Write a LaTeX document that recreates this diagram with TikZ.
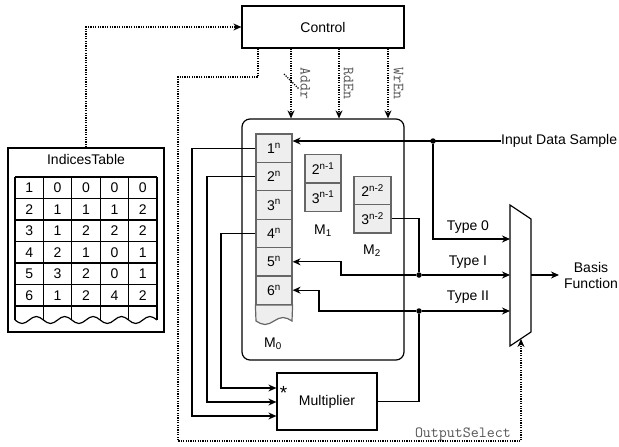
\documentclass[tikz,border=0pt]{standalone}
\usepackage{fontspec}
\setmainfont{Liberation Sans}
\usetikzlibrary{arrows.meta}
\newcommand\dfont{\fontsize{14}{16}\selectfont}
\newcommand\cfont{\ttfamily\fontsize{15.5}{17}\selectfont}
\definecolor{cellfill}{HTML}{EEEEEE}
\definecolor{cellline}{HTML}{666666}
\definecolor{codegray}{HTML}{555555}
\tikzset{
  wire/.style={line width=1.2pt},
  arr/.style={wire, -{Stealth[length=8pt,width=7pt]}},
  ctl/.style={line width=1.2pt, dash pattern=on 1.2pt off 1.2pt},
  ctlarr/.style={ctl, -{Stealth[length=8pt,width=7pt]}},
  block/.style={draw, line width=1.2pt, inner sep=0pt, font=\dfont},
  cell/.style={draw=cellline, fill=cellfill, line width=1.2pt, inner sep=0pt,
    minimum width=36pt, minimum height=28.4pt, font=\dfont},
  lbl/.style={font=\dfont, inner sep=0pt},
  code/.style={font=\cfont, text=codegray, inner sep=0pt},
  junction/.style={circle, fill, inner sep=0pt, minimum size=5.5pt},
}
\begin{document}
\begin{tikzpicture}[x=1pt, y=-1pt]
\useasboundingbox (0,0) rectangle (619,447);

% ---------- blocks ----------
\node[block, minimum width=162pt, minimum height=42pt] (ctrl) at (323,27) {Control};
\node[block, rounded corners=8pt, minimum width=162pt, minimum height=241pt] (mem) at (323,239.5) {};
\node[block, minimum width=100pt, minimum height=57pt] (mult) at (327,401.5) {Multiplier};
\node[lbl, font=\fontsize{19}{20}\selectfont] (star) at (283.5,393) {*};

% ---------- indices table ----------
\node[block, minimum width=156pt, minimum height=184pt] (tbl) at (86,240) {};
\node[lbl] (tbltitle) at (86,159) {IndicesTable};
\foreach \r in {0,...,6}
  \draw[wire] (15,{177+21.5*\r}) -- (157,{177+21.5*\r});
\foreach \k in {0,...,5}
  \draw[wire] ({15+28.4*\k},177) -- ({15+28.4*\k},320);
\draw[wire] (15,320)
  \foreach \k in {0,...,4}{
    sin ({22.1+28.4*\k},323.5) cos ({29.2+28.4*\k},320)
    sin ({36.3+28.4*\k},316.5) cos ({43.4+28.4*\k},320)
  };
\foreach \row [count=\r from 0] in {{1,0,0,0,0},{2,1,1,1,2},{3,1,2,2,2},{4,2,1,0,1},{5,3,2,0,1},{6,1,2,4,2}}
  \foreach \v [count=\c from 0] in \row
    \node[lbl] (t-\r-\c) at ({29.2+28.4*\c},{187.75+21.5*\r}) {\v};

% ---------- memories ----------
\foreach \i in {1,...,6}
  \node[cell] (c\i) at (274,{148.2+28.4*(\i-1)}) {\i\textsuperscript{n}};
\draw[draw=cellline, fill=cellfill, line width=1.2pt]
  (c6.south west) -- (c6.south east) -- (292,321)
  sin (283,317.5) cos (274,321) sin (265,324.5) cos (256,321) -- cycle;
\node[lbl] (m0) at (273,344) {M\textsubscript{0}};

\node[cell] (ma) at (323,168.7) {2\textsuperscript{n-1}};
\node[cell] (mb) at (323,197.1) {3\textsuperscript{n-1}};
\node[lbl] (m1) at (323,231) {M\textsubscript{1}};

\node[cell, minimum width=37pt] (na) at (372.5,190.3) {2\textsuperscript{n-2}};
\node[cell, minimum width=37pt] (nb) at (372.5,218.7) {3\textsuperscript{n-2}};
\node[lbl] (m2) at (372,251) {M\textsubscript{2}};

% ---------- output multiplexer ----------
\coordinate (mux-tl) at (510,205);
\coordinate (mux-tr) at (531,219);
\coordinate (mux-br) at (531,332);
\coordinate (mux-bl) at (510,346);
\draw[wire, line join=miter] (mux-tl) -- (mux-tr) -- (mux-br) -- (mux-bl) -- cycle;
\coordinate (mux-0) at (510,239);
\coordinate (mux-1) at (510,275);
\coordinate (mux-2) at (510,311);
\coordinate (mux-out) at (531,275);
\coordinate (mux-sel) at (521,339);

% ---------- labels ----------
\node[lbl, anchor=west] (inp) at (501,141) {Input Data Sample};
\node[lbl] (ty0) at (468,227) {Type 0};
\node[lbl] (ty1) at (468,262) {Type I};
\node[lbl] (ty2) at (468,297) {Type II};
\node[lbl, align=center] (basis) at (591,275) {Basis\\Function};
\node[code, rotate=-90, anchor=west] (addr) at (305.5,67) {Addr};
\node[code, rotate=-90, anchor=west] (rden) at (348.5,67) {RdEn};
\node[code, rotate=-90, anchor=west] (wren) at (398.5,67) {WrEn};
\node[code, anchor=east] (osel) at (511,434) {OutputSelect};

% ---------- data paths ----------
\node[junction] (j0) at (433,141) {};
\node[junction] (j1) at (419,275) {};
\node[junction] (j2) at (419,311) {};

\draw[arr] (inp.west) -- (c1.east |- inp.west);
\draw[arr] (j0) |- (mux-0);
\draw[wire] (nb.east) -| (j1);
\draw[arr] (j1) -- (341,275) |- (c5.east);
\draw[arr] (j1) -- (mux-1);
\draw[wire] (mult.east) -| (j2);
\draw[arr] (j2) -- (319,311) |- (c6.east);
\draw[arr] (j2) -- (mux-2);
\draw[arr] (mux-out) -- (559,275);

\draw[arr] (c1.west) -| (192,416) -- (mult.west |- 0,416);
\draw[arr] (c2.west) -| (207,402) -- (mult.west |- 0,402);
\draw[arr] (c4.west) -| (221,388) -- (mult.west |- 0,388);

% ---------- control signals ----------
\draw[ctlarr] (tbl.north) |- (ctrl.west);
\draw[ctlarr] (ctrl.south -| 291,0) -- (mem.north -| 291,0);
\draw[ctlarr] (ctrl.south -| 339,0) -- (mem.north -| 339,0);
\draw[ctlarr] (ctrl.south -| 388,0) -- (mem.north -| 388,0);
\draw[ctl] (284,74) -- (299,89);
\draw[ctlarr] (ctrl.south -| 258,0) -- (258,77) -- (178,77) -- (178,441) -- (521,441) -- (mux-sel);
\end{tikzpicture}
\end{document}
